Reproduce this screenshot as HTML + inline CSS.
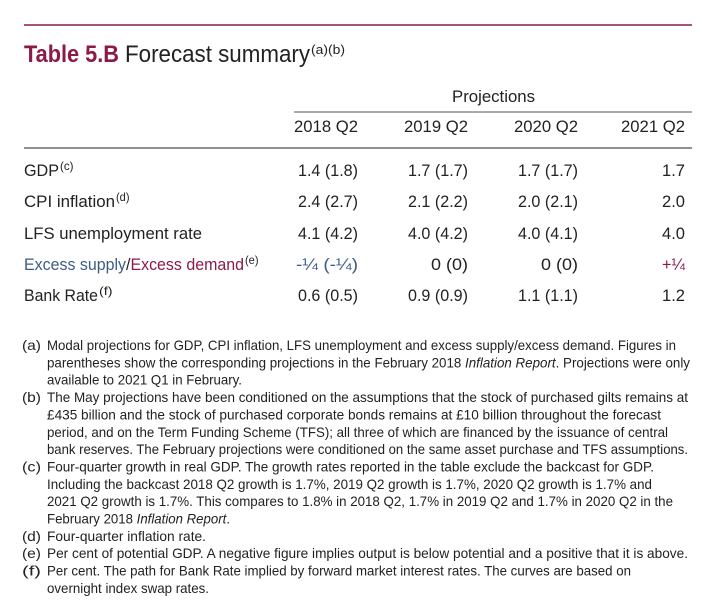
<!DOCTYPE html>
<html><head><meta charset="utf-8"><style>
html,body{margin:0;padding:0;background:#fff;overflow:hidden;}
svg{display:block;font-family:"Liberation Sans",sans-serif;}
</style></head><body>
<svg width="702" height="616" viewBox="0 0 702 616">
<line x1="24" y1="25" x2="692" y2="25" stroke="#8b1a4a" stroke-width="1.5"/>
<text x="24" y="62" font-size="24" font-weight="bold" fill="#8b1a4a" textLength="95" lengthAdjust="spacingAndGlyphs">Table 5.B</text>
<text x="125" y="62" font-size="24" fill="#222" textLength="185" lengthAdjust="spacingAndGlyphs">Forecast summary</text>
<text x="311" y="54" font-size="13" fill="#222" textLength="34" lengthAdjust="spacingAndGlyphs">(a)(b)</text>

<text x="452" y="102" font-size="17" fill="#222" textLength="83" lengthAdjust="spacingAndGlyphs">Projections</text>
<line x1="294" y1="112" x2="692" y2="112" stroke="#777" stroke-width="1.2"/>
<g id="hdr"></g>
<line x1="24" y1="148" x2="692" y2="148" stroke="#222" stroke-width="1"/>
<g id="body"></g>
<g id="notes"></g>
</svg>
<script>
const NS="http://www.w3.org/2000/svg";
const columns=["2018 Q2","2019 Q2","2020 Q2","2021 Q2"];
const rowLabels=["GDP","CPI inflation","LFS unemployment rate","Excess supply/Excess demand","Bank Rate"];
const rowSups=["(c)","(d)",null,"(e)","(f)"];
const gdpVals=["1.4 (1.8)","1.7 (1.7)","1.7 (1.7)","1.7"];
const cpiVals=["2.4 (2.7)","2.1 (2.2)","2.0 (2.1)","2.0"];
const lfsVals=["4.1 (4.2)","4.0 (4.2)","4.0 (4.1)","4.0"];
const excessVals=["-¼ (-¼)","0 (0)","0 (0)","+¼"];
const bankVals=["0.6 (0.5)","0.9 (0.9)","1.1 (1.1)","1.2"];
const rows=[gdpVals,cpiVals,lfsVals,excessVals,bankVals];
const colRight=[358,468,578,685];
const rowY=[176,207,239,270,301];
const labelW=[35,91,178,220,74];
function t(parent,x,y,s,size,fill,w,anchor){
  const e=document.createElementNS(NS,"text");
  e.setAttribute("x",x);e.setAttribute("y",y);e.setAttribute("font-size",size);
  e.setAttribute("fill",fill||"#222");
  if(w){e.setAttribute("textLength",w);e.setAttribute("lengthAdjust","spacingAndGlyphs");}
  if(anchor)e.setAttribute("text-anchor",anchor);
  e.textContent=s;parent.appendChild(e);return e;
}
const hdr=document.getElementById("hdr");
columns.forEach((c,i)=>{
  const e=t(hdr,colRight[i],132,c,17,"#222",64,"end");
  
  
});
const body=document.getElementById("body");
const blue="#3d5c85",red="#8b1a4a";
rowLabels.forEach((lab,r)=>{
  let e;
  if(r===3){
    e=document.createElementNS(NS,"text");
    e.setAttribute("x",24);e.setAttribute("y",rowY[r]);e.setAttribute("font-size",17);
    e.setAttribute("textLength",labelW[r]);e.setAttribute("lengthAdjust","spacingAndGlyphs");
    const a=document.createElementNS(NS,"tspan");a.setAttribute("fill",blue);a.textContent="Excess supply";
    const b=document.createElementNS(NS,"tspan");b.setAttribute("fill","#222");b.textContent="/";
    const c=document.createElementNS(NS,"tspan");c.setAttribute("fill",red);c.textContent="Excess demand";
    e.appendChild(a);e.appendChild(b);e.appendChild(c);body.appendChild(e);
  } else e=t(body,24,rowY[r],lab,17,"#222",labelW[r]);
  
  
  if(rowSups[r]){
    const s=t(body,24+labelW[r]+1,rowY[r]-6,rowSups[r],12,"#222",rowSups[r].length*4.5);
    
    
  }
  rows[r].forEach((v,i)=>{
    let w=v.length>5?60:(v.length===5?37:23);
    if(v.indexOf("¼ (")>=0)w=62;
    let col="#222";
    if(r===3&&v.startsWith("-"))col=blue;
    if(r===3&&v.startsWith("+"))col=red;
    const c=t(body,colRight[i],rowY[r],v,17,col,w,"end");
    
    
  });
});
const notes=[
 ["(a)","Modal projections for GDP, CPI inflation, LFS unemployment and excess supply/excess demand. Figures in",676],
 ["","parentheses show the corresponding projections in the February 2018 |Inflation Report|. Projections were only",690],
 ["","available to 2021 Q1 in February.",242],
 ["(b)","The May projections have been conditioned on the assumptions that the stock of purchased gilts remains at",688],
 ["","£435 billion and the stock of purchased corporate bonds remains at £10 billion throughout the forecast",661],
 ["","period, and on the Term Funding Scheme (TFS); all three of which are financed by the issuance of central",668],
 ["","bank reserves. The February projections were conditioned on the same asset purchase and TFS assumptions.",688],
 ["(c)","Four-quarter growth in real GDP. The growth rates reported in the table exclude the backcast for GDP.",654],
 ["","Including the backcast 2018 Q2 growth is 1.7%, 2019 Q2 growth is 1.7%, 2020 Q2 growth is 1.7% and",652],
 ["","2021 Q2 growth is 1.7%. This compares to 1.8% in 2018 Q2, 1.7% in 2019 Q2 and 1.7% in 2020 Q2 in the",673],
 ["","February 2018 |Inflation Report|.",230],
 ["(d)","Four-quarter inflation rate.",206],
 ["(e)","Per cent of potential GDP. A negative figure implies output is below potential and a positive that it is above.",688],
 ["(f)","Per cent. The path for Bank Rate implied by forward market interest rates. The curves are based on",631],
 ["","overnight index swap rates.",209]
];
const ng=document.getElementById("notes");
notes.forEach((n,i)=>{
  const y=350+17.35*i;
  if(n[0]){const l=t(ng,22,y,n[0],14,"#222",19);
    
    }
  const e=document.createElementNS(NS,"text");
  e.setAttribute("x",47);e.setAttribute("y",y);e.setAttribute("font-size",14);e.setAttribute("fill","#222");
  e.setAttribute("textLength",n[2]-47);e.setAttribute("lengthAdjust","spacingAndGlyphs");
  n[1].split("|").forEach((p,k)=>{
    const s=document.createElementNS(NS,"tspan");
    if(k%2===1)s.setAttribute("font-style","italic");
    s.textContent=p;e.appendChild(s);
  });
  ng.appendChild(e);
  
  
});
</script>
</body></html>
